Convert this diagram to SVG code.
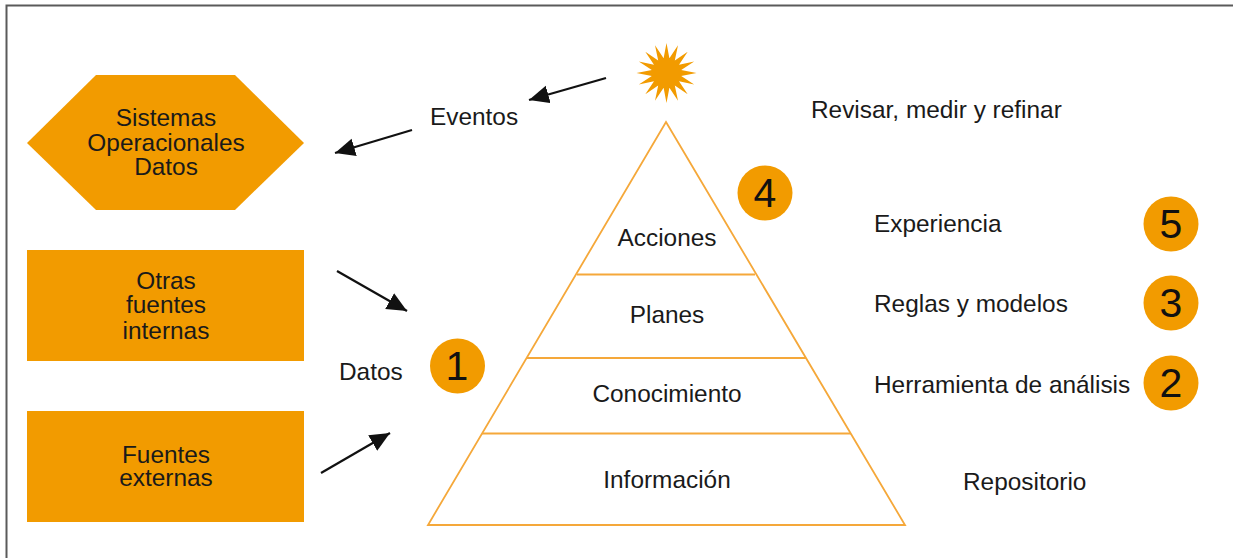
<svg xmlns="http://www.w3.org/2000/svg" width="1233" height="558" viewBox="0 0 1233 558">
<defs>
<marker id="ah" markerUnits="userSpaceOnUse" markerWidth="24" markerHeight="20" refX="20" refY="9" orient="auto"><path d="M0,0L20,9L0,18Z" fill="#111"/></marker>
</defs>
<style>
text{font-family:"Liberation Sans",Arial,sans-serif;font-size:24.4px;fill:#1a1a1a;text-anchor:middle}
.l{text-anchor:start}
.o{fill:#f29b00}
.n{font-size:41px;fill:#111}
.p{fill:none;stroke:#f5a83a;stroke-width:1.800}
.c{fill:none;stroke:#111;stroke-width:2.200;marker-end:url(#ah)}
</style>
<rect width="1233" height="558" fill="#fff"/>
<path d="M6.500,558V5.500H1233" fill="none" stroke="#5a5a5a" stroke-width="2"/>
<g id="sistemas"><polygon class="o" points="27,143 96,75 235,75 304,143 235,210 96,210"/><text x="166" y="126">Sistemas</text><text x="166" y="151">Operacionales</text><text x="166" y="175">Datos</text></g>
<g id="otras"><rect class="o" x="27" y="250" width="277" height="111"/><text x="166" y="289">Otras</text><text x="166" y="313">fuentes</text><text x="166" y="339">internas</text></g>
<g id="externas"><rect class="o" x="27" y="411" width="277" height="111"/><text x="166" y="463">Fuentes</text><text x="166" y="486">externas</text></g>
<g id="sol"><polygon class="o" transform="translate(666.500 73) rotate(-90)" points="30,0 14.700,2.900 27.700,11.500 12.500,8.300 21.200,21.200 8.300,12.500 11.500,27.700 2.900,14.700 0,30 -2.900,14.700 -11.500,27.700 -8.300,12.500 -21.200,21.200 -12.500,8.300 -27.700,11.500 -14.700,2.900 -30,0 -14.700,-2.900 -27.700,-11.500 -12.500,-8.300 -21.200,-21.200 -8.300,-12.500 -11.500,-27.700 -2.900,-14.700 0,-30 2.900,-14.700 11.500,-27.700 8.300,-12.500 21.200,-21.200 12.500,-8.300 27.700,-11.500 14.700,-2.900"/></g>
<g id="piramide">
<polygon class="p" points="666,122 905,525 428,525"/>
<path class="p" d="M577,274.500H755M527,358H806M482,433.500H851"/>
<text x="667" y="246">Acciones</text><text x="667" y="323">Planes</text><text x="667" y="402">Conocimiento</text><text x="667" y="488">Información</text>
</g>
<g id="eventos"><text class="l" x="430" y="125">Eventos</text></g>
<g id="datos"><text class="l" x="339" y="380">Datos</text></g>
<g id="n1"><circle class="o" cx="457.500" cy="366" r="27.500"/><text class="n" x="457" y="380">1</text></g>
<g id="n4"><circle class="o" cx="765" cy="193" r="27.500"/><text class="n" x="765" y="207">4</text></g>
<g id="n5"><circle class="o" cx="1171" cy="224" r="27.500"/><text class="n" x="1171" y="238">5</text></g>
<g id="n3"><circle class="o" cx="1171" cy="303" r="27.500"/><text class="n" x="1171" y="317">3</text></g>
<g id="n2"><circle class="o" cx="1171" cy="383" r="27.500"/><text class="n" x="1171" y="397">2</text></g>
<g id="revisar"><text class="l" x="811" y="118">Revisar, medir y refinar</text></g>
<g id="experiencia"><text class="l" x="874" y="232">Experiencia</text></g>
<g id="reglas"><text class="l" x="874" y="312">Reglas y modelos</text></g>
<g id="herramienta"><text class="l" x="874" y="393">Herramienta de análisis</text></g>
<g id="repositorio"><text class="l" x="963" y="490">Repositorio</text></g>
<g id="connectors">
<line class="c" x1="606" y1="78" x2="529" y2="100"/>
<line class="c" x1="412" y1="130" x2="335" y2="153"/>
<line class="c" x1="337" y1="271" x2="407" y2="311"/>
<line class="c" x1="321" y1="473" x2="390" y2="433"/>
</g>
</svg>
